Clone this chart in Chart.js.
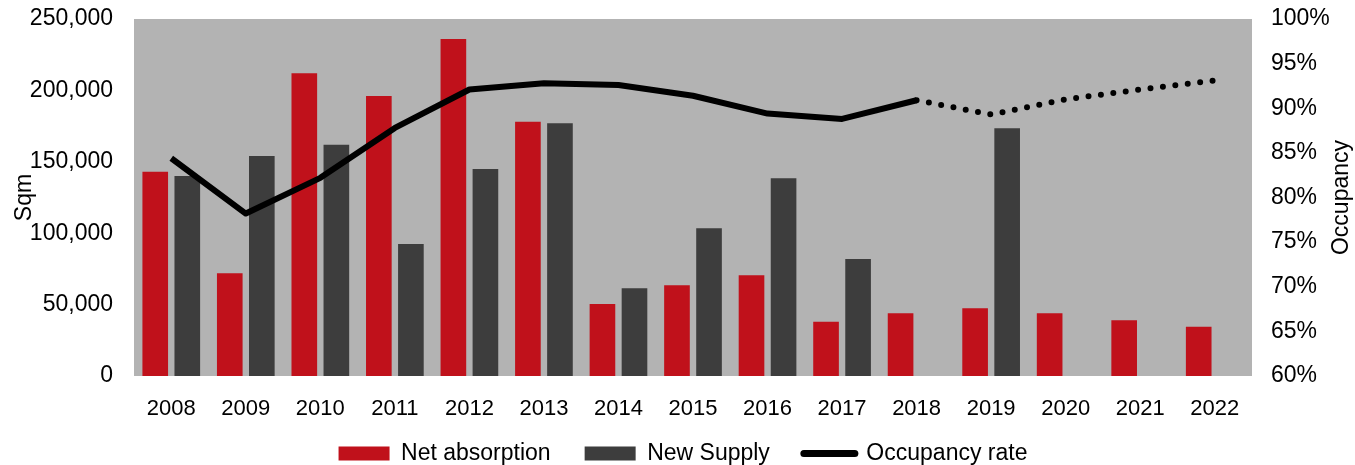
<!DOCTYPE html>
<html>
<head>
<meta charset="utf-8">
<script src="https://cdn.jsdelivr.net/npm/chart.js@4/dist/chart.umd.min.js"></script>
<style>
  html, body { margin: 0; padding: 0; background: #fff; }
  #wrap { width: 1355px; height: 465px; }
</style>
</head>
<body>
<div id="wrap"><canvas id="myChart"></canvas></div>
<script>
const years = ["2008", "2009", "2010", "2011", "2012", "2013", "2014", "2015",
               "2016", "2017", "2018", "2019", "2020", "2021", "2022"];
const netAbsorption = [143000, 72000, 212000, 196000, 236000, 178000, 50500, 63500,
                       70500, 38000, 44000, 47500, 44000, 39000, 34500];
const newSupply = [140000, 154000, 162000, 92500, 145000, 177000, 61500, 103500,
                   138500, 82000, null, 173500, null, null, null];
const occupancy = [84.4, 78.2, 82.2, 87.8, 92.1, 92.8, 92.6, 91.4,
                   89.4, 88.8, 90.9, 89.3, 91.0, 92.1, 93.1];
const forecastFrom = 10; // index of 2018, line turns dotted after it

const FONT = "'Liberation Sans', Arial, sans-serif";

// grey fill behind the plot area
const plotBackground = {
  id: "plotBackground",
  beforeDraw(chart) {
    const { ctx, chartArea: a } = chart;
    ctx.save();
    ctx.fillStyle = "#b3b3b3";
    ctx.fillRect(a.left, a.top, a.right - a.left, a.bottom - a.top);
    ctx.restore();
  },
};

// the x axis box is kept short so the legend sits close; widen its label clip back out
const xLabelRoom = {
  id: "xLabelRoom",
  afterLayout(chart) {
    chart.scales.x.bottom = chart.height;
  },
};

// right axis title reads bottom-to-top, so draw it by hand
const rightTitle = {
  id: "rightTitle",
  afterDraw(chart) {
    const { ctx, chartArea: a } = chart;
    ctx.save();
    ctx.translate(1342, (a.top + a.bottom) / 2);
    ctx.rotate(-Math.PI / 2);
    ctx.font = "23px " + FONT;
    ctx.fillStyle = "#000";
    ctx.textAlign = "center";
    ctx.textBaseline = "middle";
    ctx.fillText("Occupancy", 0, 0);
    ctx.restore();
  },
};

const ctx = document.getElementById("myChart").getContext("2d");
new Chart(ctx, {
  data: {
    labels: years,
    datasets: [
      {
        type: "bar",
        label: "Net absorption",
        data: netAbsorption,
        backgroundColor: "#c0111b",
        yAxisID: "y",
        categoryPercentage: 0.86,
        barPercentage: 0.8,
        order: 1,
      },
      {
        type: "bar",
        label: "New Supply",
        data: newSupply,
        backgroundColor: "#3d3d3d",
        yAxisID: "y",
        categoryPercentage: 0.86,
        barPercentage: 0.8,
        order: 1,
      },
      {
        type: "line",
        label: "Occupancy rate",
        data: occupancy,
        borderColor: "#000",
        backgroundColor: "#000",
        borderWidth: 6,
        borderJoinStyle: "round",
        pointRadius: 0,
        tension: 0,
        yAxisID: "y1",
        order: 0,
        segment: {
          borderDash: (c) => (c.p0DataIndex >= forecastFrom ? [0, 12.5] : undefined),
          borderCapStyle: (c) => (c.p0DataIndex >= forecastFrom ? "round" : "butt"),
        },
      },
    ],
  },
  plugins: [plotBackground, xLabelRoom, rightTitle],
  options: {
    responsive: true,
    maintainAspectRatio: false,
    animation: false,
    layout: { padding: { left: 11, right: 0, top: 19, bottom: 0 } },
    scales: {
      x: {
        grid: { display: false, drawTicks: false },
        border: { display: false },
        ticks: { color: "#000", font: { family: FONT, size: 22 }, padding: 20 },
        afterFit: (s) => { s.height = 32; },
      },
      y: {
        position: "left",
        min: 0,
        max: 250000,
        grid: { display: false, drawTicks: false },
        border: { display: false },
        ticks: {
          stepSize: 50000,
          color: "#000",
          font: { family: FONT, size: 23 },
          padding: 21,
          callback: (v) => v.toLocaleString("en-US"),
        },
        title: {
          display: true, text: "Sqm", color: "#000",
          font: { family: FONT, size: 23 }, padding: { top: 0, bottom: 0 },
        },
        afterFit: (s) => { s.width = 123; s.paddingTop = 0; s.paddingBottom = 0; },
      },
      y1: {
        position: "right",
        min: 60,
        max: 100,
        grid: { display: false, drawTicks: false },
        border: { display: false },
        ticks: {
          stepSize: 5,
          color: "#000",
          font: { family: FONT, size: 23 },
          padding: 19,
          callback: (v) => v + "%",
        },
        afterFit: (s) => { s.width = 103; s.paddingTop = 0; s.paddingBottom = 0; },
      },
    },
    plugins: {
      tooltip: { enabled: false },
      legend: {
        position: "bottom",
        maxHeight: 57,
        labels: {
          color: "#000",
          font: { family: FONT, size: 23 },
          usePointStyle: true,
          pointStyleWidth: 51,
          boxHeight: 14,
          padding: 34,
          generateLabels: (chart) =>
            chart.data.datasets.map((ds, i) => ({
              text: ds.label,
              datasetIndex: i,
              fillStyle: ds.type === "line" ? ds.borderColor : ds.backgroundColor,
              strokeStyle: ds.type === "line" ? ds.borderColor : ds.backgroundColor,
              lineWidth: ds.type === "line" ? 7 : 0,
              lineCap: "round",
              pointStyle: ds.type === "line" ? "line" : "rect",
              fontColor: "#000",
              hidden: false,
            })),
        },
      },
    },
  },
});
</script>
</body>
</html>
